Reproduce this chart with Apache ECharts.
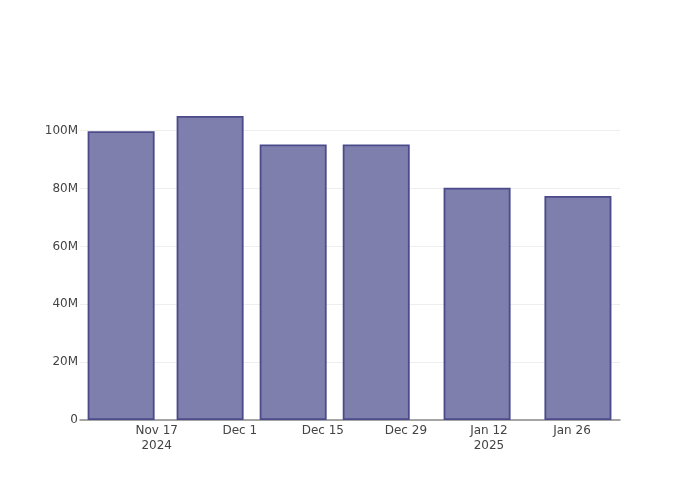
<!DOCTYPE html>
<html><head><meta charset="utf-8">
<script src="https://cdn.jsdelivr.net/npm/echarts@6/dist/echarts.min.js"></script>
<style>html,body{margin:0;padding:0;background:#fff}#c{width:700px;height:500px}</style>
</head><body><div id="c"></div>
<script>
const barDates = ['2024-11-11','2024-11-26','2024-12-10','2024-12-24','2025-01-10','2025-01-27'];
const barValues = [99.8e6, 105.1e6, 95.2e6, 95.2e6, 80.3e6, 77.4e6];
const xTickDates = ['2024-11-17','2024-12-01','2024-12-15','2024-12-29','2025-01-12','2025-01-26'];
const xTickLabels = ['Nov 17\n2024','Dec 1','Dec 15','Dec 29','Jan 12\n2025','Jan 26'];
const yTickValues = [0, 20e6, 40e6, 60e6, 80e6, 100e6];
const yTickLabels = ['0','20M','40M','60M','80M','100M'];

const DAY = 86400000;
const ts = s => Date.parse(s + 'T00:00:00Z');
const xTicks = xTickDates.map(ts);
const xMin = ts('2024-11-17') - 12.93 * DAY;
const xMax = ts('2025-01-26') + 8.09 * DAY;

const chart = echarts.init(document.getElementById('c'), null, {renderer: 'canvas'});
chart.setOption({
  animation: false,
  grid: {left: 80, right: 80, top: 100, bottom: 80},
  xAxis: {
    type: 'value', min: xMin, max: xMax,
    axisLine: {show: true, lineStyle: {color: '#888', width: 1.5}},
    axisTick: {show: false, customValues: xTicks},
    splitLine: {show: false},
    axisLabel: {
      customValues: xTicks,
      formatter: v => { const i = xTicks.indexOf(v); return i >= 0 ? xTickLabels[i] : ''; },
      color: '#444', fontSize: 12, fontFamily: 'DejaVu Sans, sans-serif', lineHeight: 15, margin: 3
    }
  },
  yAxis: {
    type: 'value', min: 0, max: 110.6e6, interval: 20e6,
    axisLine: {show: false}, axisTick: {show: false},
    splitLine: {show: true, showMaxLine: false, showMinLine: false, lineStyle: {color: '#eeeeee', width: 1}},
    axisLabel: {
      customValues: yTickValues,
      formatter: v => { const i = yTickValues.indexOf(v); return i >= 0 ? yTickLabels[i] : ''; },
      color: '#444', fontSize: 12, fontFamily: 'DejaVu Sans, sans-serif', margin: 2
    }
  },
  series: [{
    type: 'bar',
    data: barDates.map((d, i) => [ts(d), barValues[i]]),
    barWidth: 67,
    itemStyle: {color: '#7f7fae', borderColor: '#4b4b8c', borderWidth: 1.8}
  }]
});
</script></body></html>
